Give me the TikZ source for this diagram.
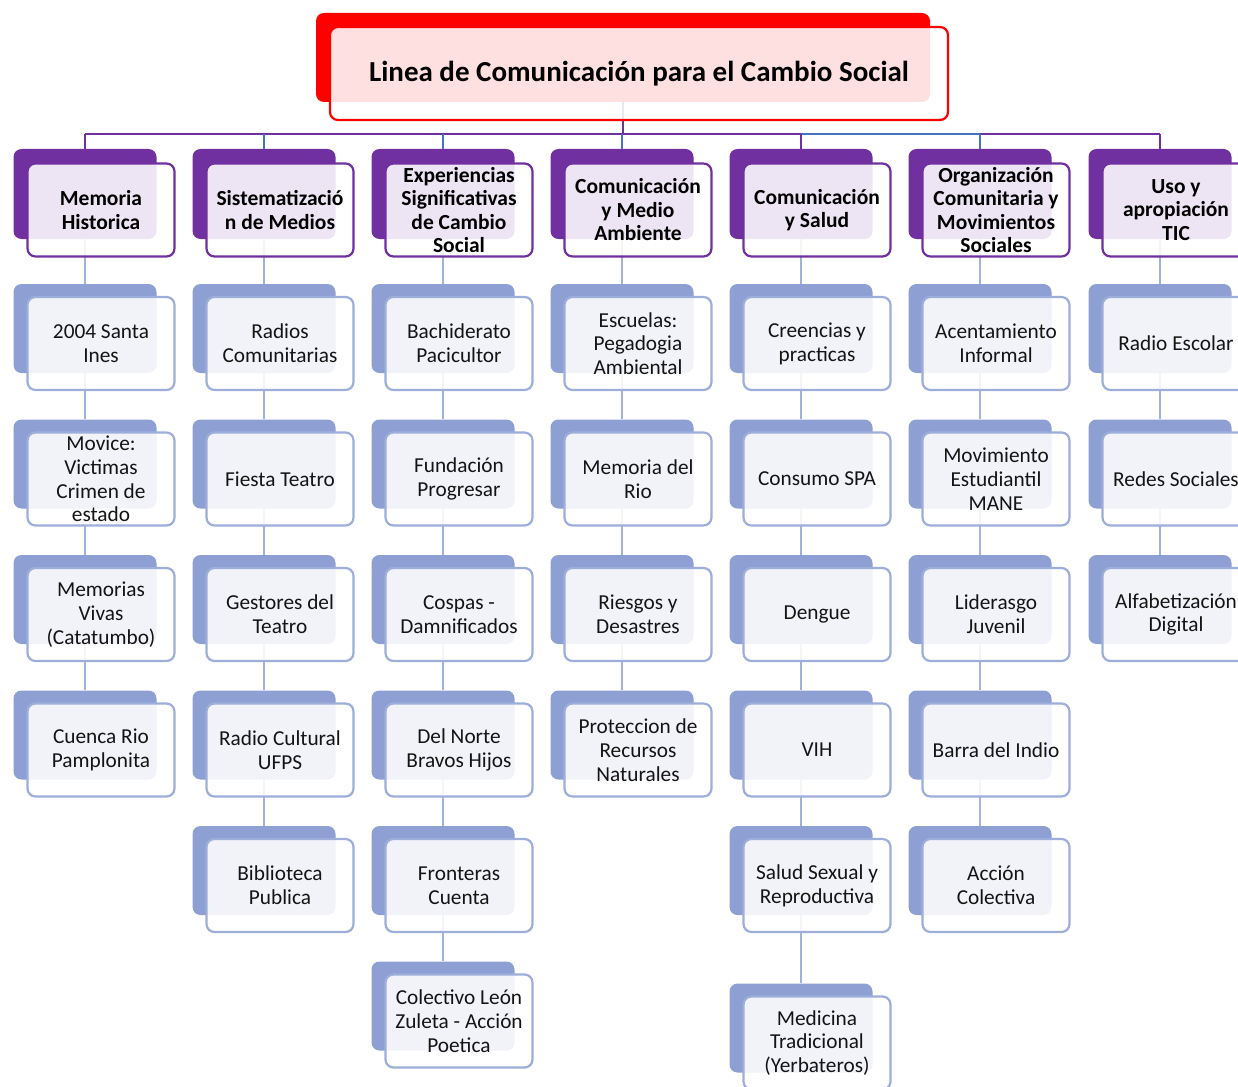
\documentclass[tikz,border=0pt]{standalone}
\usepackage{fontspec}
\setmainfont{Carlito}
\usetikzlibrary{calc}
\definecolor{hpurple}{HTML}{7030A0}
\definecolor{lblue}{HTML}{4472C4}
\definecolor{iblue}{HTML}{8EA0D3}
\definecolor{iedge}{HTML}{9DAEDB}
\definecolor{iline}{HTML}{A3B2DD}

\begin{document}
\begin{tikzpicture}[x=1pt, y=-1pt,
    every node/.append style={inner sep=0pt, rounded corners=8pt, align=center},
    tback/.style={fill=red, minimum width=614pt, minimum height=89pt},
    tfront/.style={draw=red, line width=2.2pt, fill=white, fill opacity=.88, text opacity=1,
      minimum width=618pt, minimum height=93pt, font=\fontsize{29}{34}\selectfont\bfseries},
    hback/.style={fill=hpurple, minimum width=143pt, minimum height=90pt},
    hfront/.style={draw=hpurple, line width=2.2pt, fill=white, fill opacity=.88, text opacity=1,
      minimum width=147pt, minimum height=93pt, font=\fontsize{21.5}{23.5}\selectfont\bfseries},
    iback/.style={fill=iblue, minimum width=143pt, minimum height=89pt},
    ifront/.style={draw=iedge, line width=2.2pt, fill=white, fill opacity=.88, text opacity=1,
      minimum width=147pt, minimum height=93pt, text=black!92, font=\fontsize{21.3}{23.8}\selectfont},
    hlink/.style={hpurple, line width=2.4pt},
    blink/.style={lblue, line width=2.4pt},
    ilink/.style={iline, line width=2.2pt}]
  \useasboundingbox (0,0) rectangle (1238,1086);
  \coordinate (bar) at (0,134);

  % back boxes
  \node[tback] (title) at (623,57.5) {};
  \node[hback] (mh) at (85,194) {};
  \node[hback] (sm) at (264,194) {};
  \node[hback] (ex) at (443,194) {};
  \node[hback] (ma) at (622,194) {};
  \node[hback] (cs) at (801,194) {};
  \node[hback] (oc) at (980,194) {};
  \node[hback] (tic) at (1160,194) {};

  \node[iback] (mh1) at (85,328.5) {};
  \node[iback] (mh2) at (85,464) {};
  \node[iback] (mh3) at (85,599.5) {};
  \node[iback] (mh4) at (85,735) {};

  \node[iback] (sm1) at (264,328.5) {};
  \node[iback] (sm2) at (264,464) {};
  \node[iback] (sm3) at (264,599.5) {};
  \node[iback] (sm4) at (264,735) {};
  \node[iback] (sm5) at (264,870.5) {};

  \node[iback] (ex1) at (443,328.5) {};
  \node[iback] (ex2) at (443,464) {};
  \node[iback] (ex3) at (443,599.5) {};
  \node[iback] (ex4) at (443,735) {};
  \node[iback] (ex5) at (443,870.5) {};
  \node[iback] (ex6) at (443,1006) {};

  \node[iback] (ma1) at (622,328.5) {};
  \node[iback] (ma2) at (622,464) {};
  \node[iback] (ma3) at (622,599.5) {};
  \node[iback] (ma4) at (622,735) {};

  \node[iback] (cs1) at (801,328.5) {};
  \node[iback] (cs2) at (801,464) {};
  \node[iback] (cs3) at (801,599.5) {};
  \node[iback] (cs4) at (801,735) {};
  \node[iback] (cs5) at (801,870.5) {};
  \node[iback] (cs6) at (801,1028) {};

  \node[iback] (oc1) at (980,328.5) {};
  \node[iback] (oc2) at (980,464) {};
  \node[iback] (oc3) at (980,599.5) {};
  \node[iback] (oc4) at (980,735) {};
  \node[iback] (oc5) at (980,870.5) {};

  \node[iback] (tic1) at (1160,328.5) {};
  \node[iback] (tic2) at (1160,464) {};
  \node[iback] (tic3) at (1160,599.5) {};

  % connectors
  \draw[hlink] (title) -- (title |- bar);
  \draw[hlink] (mh |- bar) -- (cs |- bar);
  \draw[blink] (cs |- bar) -- (oc |- bar);
  \draw[hlink] (oc |- bar) -- (tic |- bar);
  \draw[hlink] (mh |- bar) -- (mh);
  \draw[blink] (sm |- bar) -- (sm);
  \draw[blink] (ex |- bar) -- (ex);
  \draw[blink] (ma |- bar) -- (ma);
  \draw[hlink] (cs |- bar) -- (cs);
  \draw[blink] (oc |- bar) -- (oc);
  \draw[hlink] (tic |- bar) -- (tic);
  \draw[ilink] (mh) -- (mh1) -- (mh2) -- (mh3) -- (mh4);
  \draw[ilink] (sm) -- (sm1) -- (sm2) -- (sm3) -- (sm4) -- (sm5);
  \draw[ilink] (ex) -- (ex1) -- (ex2) -- (ex3) -- (ex4) -- (ex5) -- (ex6);
  \draw[ilink] (ma) -- (ma1) -- (ma2) -- (ma3) -- (ma4);
  \draw[ilink] (cs) -- (cs1) -- (cs2) -- (cs3) -- (cs4) -- (cs5) -- (cs6);
  \draw[ilink] (oc) -- (oc1) -- (oc2) -- (oc3) -- (oc4) -- (oc5);
  \draw[ilink] (tic) -- (tic1) -- (tic2) -- (tic3);

  % front boxes with text
  \node[tfront] (titlet) at ([shift={(16,16)}]title) {Linea de Comunicación para el Cambio Social};
  \node[hfront] (mht) at ([shift={(16,16)}]mh) {Memoria\\Historica};
  \node[hfront] (smt) at ([shift={(16,16)}]sm) {Sistematizació\\n de Medios};
  \node[hfront] (ext) at ([shift={(16,16)}]ex) {Experiencias\\Significativas\\de Cambio\\Social};
  \node[hfront] (mat) at ([shift={(16,16)}]ma) {Comunicación\\y Medio\\Ambiente};
  \node[hfront] (cst) at ([shift={(16,16)}]cs) {Comunicación\\y Salud};
  \node[hfront] (oct) at ([shift={(16,16)}]oc) {Organización\\Comunitaria y\\Movimientos\\Sociales};
  \node[hfront] (tict) at ([shift={(16,16)}]tic) {Uso y\\apropiación\\TIC};

  \node[ifront] (mh1t) at ([shift={(16,15)}]mh1) {2004 Santa\\Ines};
  \node[ifront] (mh2t) at ([shift={(16,15)}]mh2) {Movice:\\Victimas\\Crimen de\\estado};
  \node[ifront] (mh3t) at ([shift={(16,15)}]mh3) {Memorias\\Vivas\\(Catatumbo)};
  \node[ifront] (mh4t) at ([shift={(16,15)}]mh4) {Cuenca Rio\\Pamplonita};

  \node[ifront] (sm1t) at ([shift={(16,15)}]sm1) {Radios\\Comunitarias};
  \node[ifront] (sm2t) at ([shift={(16,15)}]sm2) {Fiesta Teatro};
  \node[ifront] (sm3t) at ([shift={(16,15)}]sm3) {Gestores del\\Teatro};
  \node[ifront] (sm4t) at ([shift={(16,15)}]sm4) {Radio Cultural\\UFPS};
  \node[ifront] (sm5t) at ([shift={(16,15)}]sm5) {Biblioteca\\Publica};

  \node[ifront] (ex1t) at ([shift={(16,15)}]ex1) {Bachiderato\\Pacicultor};
  \node[ifront] (ex2t) at ([shift={(16,15)}]ex2) {Fundación\\Progresar};
  \node[ifront] (ex3t) at ([shift={(16,15)}]ex3) {Cospas -\\Damnificados};
  \node[ifront] (ex4t) at ([shift={(16,15)}]ex4) {Del Norte\\Bravos Hijos};
  \node[ifront] (ex5t) at ([shift={(16,15)}]ex5) {Fronteras\\Cuenta};
  \node[ifront] (ex6t) at ([shift={(16,15)}]ex6) {Colectivo León\\Zuleta - Acción\\Poetica};

  \node[ifront] (ma1t) at ([shift={(16,15)}]ma1) {Escuelas:\\Pegadogia\\Ambiental};
  \node[ifront] (ma2t) at ([shift={(16,15)}]ma2) {Memoria del\\Rio};
  \node[ifront] (ma3t) at ([shift={(16,15)}]ma3) {Riesgos y\\Desastres};
  \node[ifront] (ma4t) at ([shift={(16,15)}]ma4) {Proteccion de\\Recursos\\Naturales};

  \node[ifront] (cs1t) at ([shift={(16,15)}]cs1) {Creencias y\\practicas};
  \node[ifront] (cs2t) at ([shift={(16,15)}]cs2) {Consumo SPA};
  \node[ifront] (cs3t) at ([shift={(16,15)}]cs3) {Dengue};
  \node[ifront] (cs4t) at ([shift={(16,15)}]cs4) {VIH};
  \node[ifront] (cs5t) at ([shift={(16,15)}]cs5) {Salud Sexual y\\Reproductiva};
  \node[ifront] (cs6t) at ([shift={(16,15)}]cs6) {Medicina\\Tradicional\\(Yerbateros)};

  \node[ifront] (oc1t) at ([shift={(16,15)}]oc1) {Acentamiento\\Informal};
  \node[ifront] (oc2t) at ([shift={(16,15)}]oc2) {Movimiento\\Estudiantil\\MANE};
  \node[ifront] (oc3t) at ([shift={(16,15)}]oc3) {Liderasgo\\Juvenil};
  \node[ifront] (oc4t) at ([shift={(16,15)}]oc4) {Barra del Indio};
  \node[ifront] (oc5t) at ([shift={(16,15)}]oc5) {Acción\\Colectiva};

  \node[ifront] (tic1t) at ([shift={(16,15)}]tic1) {Radio Escolar};
  \node[ifront] (tic2t) at ([shift={(16,15)}]tic2) {Redes Sociales};
  \node[ifront] (tic3t) at ([shift={(16,15)}]tic3) {Alfabetización\\Digital};
\end{tikzpicture}
\end{document}
